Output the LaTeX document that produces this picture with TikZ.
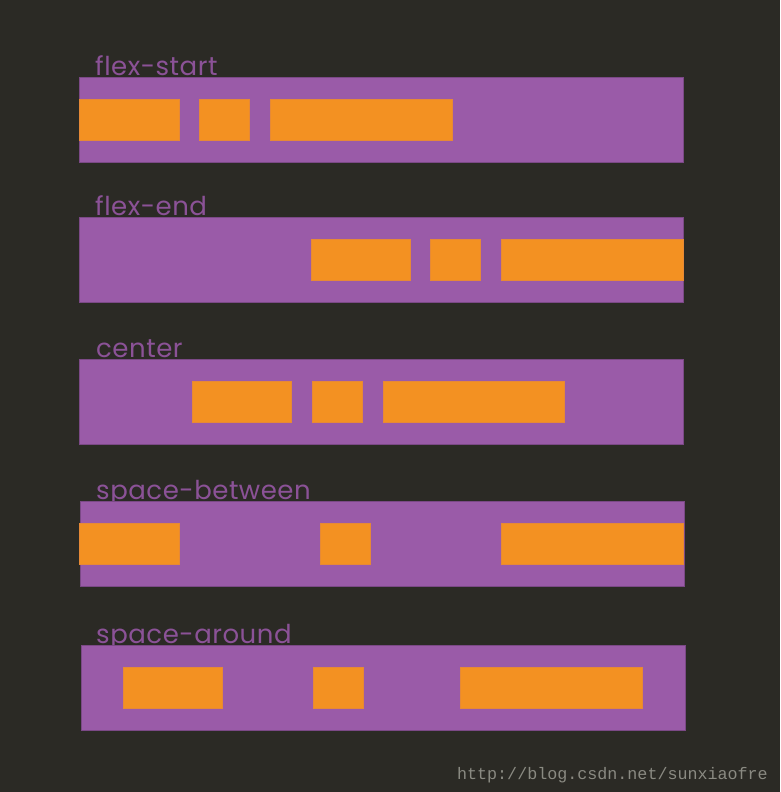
\documentclass[tikz,border=0pt]{standalone}
\usepackage{fontspec}
\setmainfont[LetterSpace=2]{Poppins}
\setmonofont{Liberation Mono}
\definecolor{bgdark}{HTML}{2B2A25}
\definecolor{flexpurple}{HTML}{9A5BA8}
\definecolor{flexorange}{HTML}{F39122}
\definecolor{markgray}{HTML}{8A8A82}
\newcommand{\FlexBox}[4]%
% name, left, right, top
{   \node[item, minimum width={#3-#2}] (#1) at (#2,#4) {};
}
\begin{document}
\begin{tikzpicture}
[   x=1pt, y=-1pt,
    container/.style={anchor=north west, fill=flexpurple, draw=flexpurple!80!black,
        line width=0.6pt, minimum width=604pt, minimum height=85pt, inner sep=0},
    item/.style={anchor=north west, fill=flexorange, draw=flexorange!85!flexpurple,
        line width=0.6pt, minimum height=41pt, inner sep=0},
    caption/.style={anchor=base west, text=flexpurple!90!black, inner sep=0,
        font=\fontsize{26}{26}\selectfont}
]
    \fill[bgdark] (0,0) rectangle (780,792);
    \useasboundingbox (0,0) rectangle (780,792);

    % flex-start
    \node[caption] (lstart) at (95,75) {flex-start};
    \node[container] (start) at (79,77) {};
    \FlexBox{s1}{79}{179}{99}
    \FlexBox{s2}{199}{249}{99}
    \FlexBox{s3}{270}{452}{99}

    % flex-end
    \node[caption] (lend) at (95,215) {flex-end};
    \node[container] (end) at (79,217) {};
    \FlexBox{e1}{311}{410}{239}
    \FlexBox{e2}{430}{480}{239}
    \FlexBox{e3}{501}{683}{239}

    % center
    \node[caption] (lcenter) at (96,357) {center};
    \node[container] (center) at (79,359) {};
    \FlexBox{c1}{192}{291}{381}
    \FlexBox{c2}{312}{362}{381}
    \FlexBox{c3}{383}{564}{381}

    % space-between
    \node[caption] (lbetween) at (96,499) {space-between};
    \node[container] (between) at (80,501) {};
    \FlexBox{b1}{79}{179}{523}
    \FlexBox{b2}{320}{370}{523}
    \FlexBox{b3}{501}{683}{523}

    % space-around
    \node[caption] (laround) at (96,643) {space-around};
    \node[container] (around) at (81,645) {};
    \FlexBox{a1}{123}{222}{667}
    \FlexBox{a2}{313}{363}{667}
    \FlexBox{a3}{460}{642}{667}

    \node[anchor=base east, inner sep=0, text=markgray,
        font=\ttfamily\fontsize{16.7}{16.7}\selectfont] (mark) at (768,779)
        {http://blog.csdn.net/sunxiaofre};
\end{tikzpicture}
\end{document}
